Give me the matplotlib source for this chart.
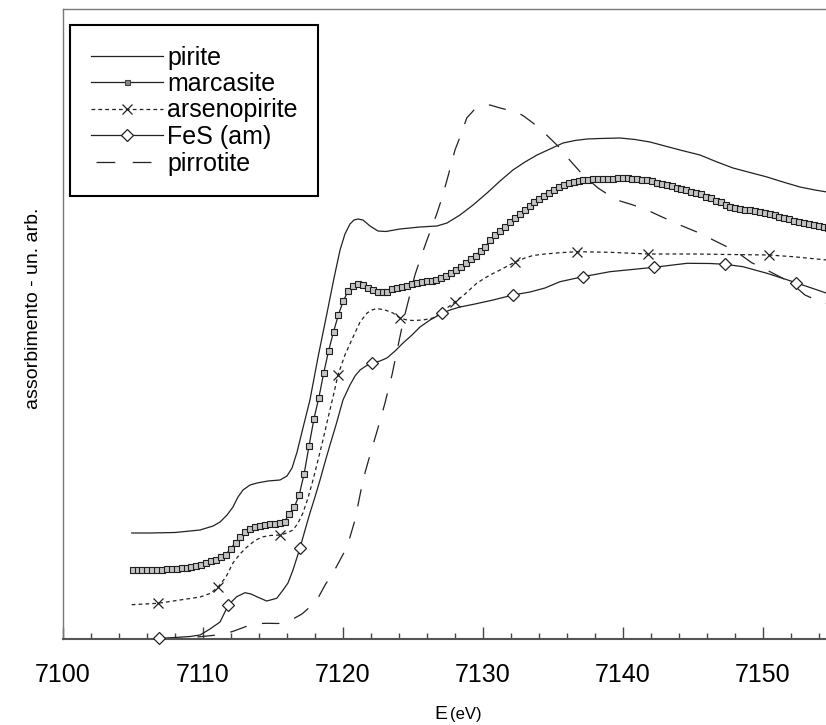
import matplotlib
matplotlib.use('Agg')
import matplotlib.pyplot as plt
from matplotlib.lines import Line2D
from matplotlib.ticker import MultipleLocator

plt.rcParams['font.family'] = ['Liberation Sans', 'DejaVu Sans']

# ---------------- data (energy in eV, absorption in arbitrary units) ----------------
pirite_E = [7104.93, 7106.24, 7108.02, 7109.81, 7110.74, 7111.24, 7111.74, 7112.16, 7112.52, 7112.88,
            7113.38, 7113.88, 7114.66, 7115.52, 7116.02, 7116.38, 7116.74, 7117.16, 7117.66, 7118.24,
            7118.88, 7119.38, 7119.81, 7120.16, 7120.52, 7120.81, 7121.09, 7121.45, 7121.95, 7122.52,
            7123.09, 7124.09, 7125.52, 7126.74, 7127.45, 7128.38, 7129.31, 7130.31, 7131.24, 7132.16,
            7133.02, 7133.88, 7134.81, 7135.74, 7136.59, 7137.45, 7138.38, 7139.81, 7140.88, 7141.95,
            7143.02, 7144.09, 7145.52, 7146.74, 7147.88, 7149.09, 7150.31, 7151.45, 7152.66, 7153.73,
            7155.02]
pirite_y = [1.055, 1.055, 1.060, 1.085, 1.125, 1.165, 1.235, 1.315, 1.415, 1.485,
            1.535, 1.555, 1.575, 1.585, 1.625, 1.705, 1.865, 2.105, 2.385, 2.815,
            3.255, 3.605, 3.885, 4.045, 4.145, 4.185, 4.195, 4.185, 4.125, 4.075,
            4.070, 4.095, 4.115, 4.125, 4.155, 4.235, 4.335, 4.455, 4.575, 4.685,
            4.765, 4.835, 4.895, 4.955, 4.980, 4.995, 5.000, 5.005, 4.990, 4.965,
            4.925, 4.885, 4.835, 4.765, 4.705, 4.660, 4.615, 4.565, 4.515, 4.485,
            4.455]

marcasite_E = [7105.00, 7105.35, 7105.70, 7106.05, 7106.40, 7106.75, 7107.10, 7107.45, 7107.80, 7108.15,
               7108.50, 7108.85, 7109.20, 7109.55, 7109.90, 7110.25, 7110.60, 7110.95, 7111.30, 7111.65,
               7112.00, 7112.35, 7112.70, 7113.05, 7113.40, 7113.75, 7114.10, 7114.45, 7114.80, 7115.15,
               7115.50, 7115.85, 7116.20, 7116.55, 7116.90, 7117.25, 7117.60, 7117.95, 7118.30, 7118.65,
               7119.00, 7119.35, 7119.70, 7120.05, 7120.40, 7120.75, 7121.10, 7121.45, 7121.80, 7122.15,
               7122.50, 7122.85, 7123.20, 7123.55, 7123.90, 7124.25, 7124.60, 7124.95, 7125.30, 7125.65,
               7126.00, 7126.35, 7126.70, 7127.05, 7127.40, 7127.75, 7128.10, 7128.45, 7128.80, 7129.15,
               7129.50, 7129.85, 7130.20, 7130.55, 7130.90, 7131.25, 7131.60, 7131.95, 7132.30, 7132.65,
               7133.00, 7133.35, 7133.70, 7134.05, 7134.40, 7134.75, 7135.10, 7135.45, 7135.80, 7136.15,
               7136.50, 7136.85, 7137.20, 7137.55, 7137.90, 7138.25, 7138.60, 7138.95, 7139.30, 7139.65,
               7140.00, 7140.35, 7140.70, 7141.05, 7141.40, 7141.75, 7142.10, 7142.45, 7142.80, 7143.15,
               7143.50, 7143.85, 7144.20, 7144.55, 7144.90, 7145.25, 7145.60, 7145.95, 7146.30, 7146.65,
               7147.00, 7147.35, 7147.70, 7148.05, 7148.40, 7148.75, 7149.10, 7149.45, 7149.80, 7150.15,
               7150.50, 7150.85, 7151.20, 7151.55, 7151.90, 7152.25, 7152.60, 7152.95, 7153.30, 7153.65,
               7154.00, 7154.35, 7154.70]
marcasite_y = [0.690, 0.685, 0.683, 0.685, 0.687, 0.690, 0.690, 0.692, 0.695, 0.700,
               0.707, 0.710, 0.715, 0.723, 0.735, 0.752, 0.772, 0.790, 0.812, 0.840,
               0.900, 0.960, 1.015, 1.065, 1.097, 1.113, 1.130, 1.138, 1.144, 1.148,
               1.153, 1.170, 1.250, 1.315, 1.440, 1.650, 1.930, 2.200, 2.410, 2.660,
               2.880, 3.070, 3.240, 3.380, 3.475, 3.530, 3.550, 3.540, 3.510, 3.485,
               3.470, 3.463, 3.470, 3.492, 3.507, 3.516, 3.528, 3.542, 3.555, 3.566,
               3.573, 3.578, 3.587, 3.605, 3.628, 3.660, 3.690, 3.720, 3.755, 3.795,
               3.830, 3.878, 3.920, 3.990, 4.035, 4.078, 4.120, 4.163, 4.205, 4.248,
               4.290, 4.325, 4.360, 4.395, 4.430, 4.460, 4.490, 4.515, 4.535, 4.555,
               4.565, 4.575, 4.583, 4.588, 4.592, 4.595, 4.597, 4.599, 4.600, 4.602,
               4.603, 4.602, 4.600, 4.597, 4.590, 4.582, 4.572, 4.560, 4.548, 4.535,
               4.522, 4.509, 4.496, 4.483, 4.470, 4.455, 4.440, 4.420, 4.400, 4.380,
               4.360, 4.340, 4.320, 4.307, 4.298, 4.290, 4.282, 4.273, 4.265, 4.255,
               4.245, 4.232, 4.220, 4.207, 4.194, 4.180, 4.165, 4.155, 4.145, 4.135,
               4.125, 4.115, 4.105]

arseno_E = [7104.93, 7106.81, 7108.38, 7109.81, 7110.52, 7111.09, 7111.66, 7112.16, 7112.66, 7113.16,
            7113.74, 7114.24, 7114.81, 7115.52, 7116.02, 7116.45, 7116.81, 7117.16, 7117.52, 7117.88,
            7118.24, 7118.59, 7118.95, 7119.31, 7119.66, 7120.16, 7120.74, 7121.24, 7121.74, 7122.09,
            7122.45, 7123.02, 7123.59, 7124.09, 7124.59, 7125.02, 7125.74, 7126.45, 7126.95, 7127.45,
            7128.02, 7128.74, 7129.59, 7130.52, 7131.24, 7132.31, 7133.02, 7133.59, 7134.45, 7135.52,
            7136.74, 7139.09, 7141.81, 7145.02, 7147.66, 7150.45, 7152.16, 7154.59]
arseno_y = [0.338, 0.352, 0.385, 0.415, 0.450, 0.512, 0.615, 0.755, 0.845, 0.915,
            0.980, 1.015, 1.030, 1.035, 1.055, 1.085, 1.155, 1.255, 1.405, 1.585,
            1.785, 1.985, 2.205, 2.415, 2.635, 2.835, 3.015, 3.165, 3.255, 3.285,
            3.300, 3.285, 3.255, 3.205, 3.185, 3.180, 3.185, 3.205, 3.245, 3.305,
            3.365, 3.445, 3.555, 3.635, 3.685, 3.765, 3.805, 3.830, 3.845, 3.858,
            3.868, 3.862, 3.845, 3.845, 3.840, 3.835, 3.818, 3.785]
arseno_mark_E = [7106.81, 7111.09, 7115.52, 7119.66, 7124.09, 7128.02, 7132.31, 7136.74, 7141.81, 7150.45]
arseno_mark_y = [0.352, 0.512, 1.035, 2.635, 3.205, 3.365, 3.765, 3.868, 3.845, 3.835]

fes_E = [7104.93, 7106.09, 7106.90, 7108.02, 7109.09, 7109.81, 7110.52, 7111.24, 7111.83, 7112.43,
         7113.02, 7113.45, 7113.86, 7114.57, 7115.29, 7115.74, 7116.09, 7116.45, 7116.95, 7117.31,
         7117.66, 7118.02, 7118.38, 7118.74, 7119.09, 7119.52, 7120.02, 7120.52, 7120.88, 7121.24,
         7121.66, 7122.09, 7122.66, 7123.16, 7123.74, 7124.31, 7124.95, 7125.52, 7126.24, 7126.74,
         7127.09, 7127.66, 7128.38, 7129.45, 7130.74, 7132.16, 7133.38, 7134.45, 7135.52, 7137.16,
         7139.09, 7142.24, 7144.59, 7146.24, 7147.31, 7148.59, 7149.45, 7150.31, 7151.24, 7152.16,
         7153.38, 7154.59]
fes_y = [-0.030, -0.005, 0.002, 0.010, 0.020, 0.035, 0.095, 0.165, 0.335, 0.418,
         0.458, 0.445, 0.418, 0.375, 0.402, 0.485, 0.555, 0.685, 0.905, 1.085,
         1.255, 1.415, 1.585, 1.765, 1.935, 2.135, 2.385, 2.535, 2.625, 2.685,
         2.725, 2.752, 2.775, 2.805, 2.875, 2.955, 3.035, 3.115, 3.185, 3.225,
         3.252, 3.285, 3.315, 3.345, 3.385, 3.435, 3.465, 3.505, 3.568, 3.618,
         3.668, 3.712, 3.752, 3.750, 3.742, 3.718, 3.685, 3.652, 3.610, 3.568,
         3.510, 3.452]
fes_mark_E = [7106.90, 7111.83, 7116.95, 7122.09, 7127.09, 7132.16, 7137.16, 7142.24, 7147.31, 7152.38]
fes_mark_y = [0.002, 0.335, 0.905, 2.752, 3.252, 3.435, 3.618, 3.712, 3.742, 3.552]

pirr_E = [7104.93, 7107.31, 7108.59, 7109.81, 7111.02, 7112.09, 7112.81, 7113.38, 7114.09, 7114.66,
          7115.38, 7115.88, 7116.45, 7117.09, 7117.66, 7118.24, 7118.74, 7119.31, 7119.81, 7120.31,
          7120.88, 7121.45, 7121.95, 7122.52, 7123.02, 7123.52, 7123.95, 7124.31, 7124.74, 7125.16,
          7125.59, 7126.02, 7126.74, 7127.09, 7127.45, 7127.74, 7128.02, 7128.38, 7128.86, 7129.38,
          7129.93, 7130.52, 7131.24, 7131.81, 7132.43, 7133.02, 7133.59, 7134.31, 7134.93, 7135.52,
          7136.00, 7136.59, 7136.95, 7137.66, 7138.24, 7138.95, 7139.57, 7140.52, 7141.59, 7142.66,
          7144.09, 7145.52, 7146.71, 7148.02, 7149.21, 7150.02, 7150.74, 7151.95, 7153.02, 7154.09,
          7155.02]
pirr_y = [-0.065, -0.025, 0.005, 0.018, 0.035, 0.068, 0.105, 0.135, 0.150, 0.152,
          0.150, 0.160, 0.195, 0.245, 0.315, 0.405, 0.535, 0.655, 0.785, 0.915,
          1.185, 1.585, 1.835, 2.105, 2.355, 2.635, 2.925, 3.165, 3.405, 3.635,
          3.815, 3.985, 4.255, 4.405, 4.585, 4.735, 4.885, 5.015, 5.205, 5.285,
          5.325, 5.335, 5.305, 5.285, 5.268, 5.215, 5.155, 5.070, 4.985, 4.905,
          4.818, 4.725, 4.668, 4.575, 4.505, 4.440, 4.385, 4.345, 4.295, 4.225,
          4.135, 4.052, 3.968, 3.878, 3.758, 3.705, 3.652, 3.565, 3.435, 3.368,
          3.335]

labels = ['pirite', 'marcasite', 'arsenopirite', 'FeS (am)', 'pirrotite']
tick_vals = [7100, 7110, 7120, 7130, 7140, 7150]
tick_labels = ['7100', '7110', '7120', '7130', '7140', '7150']

# ---------------- figure ----------------
W, H = 826, 725
fig = plt.figure(figsize=(W / 100, H / 100), dpi=100)
ax = fig.add_axes([62.7 / W, 86.5 / H, 770 / W, 629.5 / H])
ax.set_xlim(7100, 7155)
ax.set_ylim(0, 6.295)

lc = '#222222'
lw = 0.9
dot_ls = (0, (3, 2.5))
dash_ls = (0, (14, 12.5))

ax.plot(pirite_E, pirite_y, color=lc, lw=lw)
ax.plot(marcasite_E, marcasite_y, color=lc, lw=lw, marker='s', ms=3.9,
        mfc='#c4c4c4', mec='#1e1e1e', mew=0.8)
ax.plot(arseno_E, arseno_y, color=lc, lw=lw, ls=dot_ls)
ax.plot(arseno_mark_E, arseno_mark_y, ls='none', marker='x', ms=7, mec=lc, mew=0.9,
        clip_on=False, zorder=3)
ax.plot(fes_E, fes_y, color=lc, lw=lw)
ax.plot(fes_mark_E, fes_mark_y, ls='none', marker='D', ms=6.5, mfc='white', mec=lc,
        mew=0.9, clip_on=False, zorder=3)
ax.plot(pirr_E, pirr_y, color=lc, lw=lw, ls=dash_ls)

# axes styling
ax.set_xticks(tick_vals)
ax.set_xticklabels(tick_labels)
ax.xaxis.set_minor_locator(MultipleLocator(2))
ax.tick_params(axis='x', which='major', direction='in', length=9, width=1,
               color='#444444', labelcolor='black', labelsize=18, pad=18, top=False)
ax.tick_params(axis='x', which='minor', direction='in', length=4.3, width=1,
               color='#444444', top=False)
ax.set_yticks([])
ax.spines['right'].set_visible(False)
for s in ('left', 'top'):
    ax.spines[s].set_color('#777777')
    ax.spines[s].set_linewidth(1)
ax.spines['bottom'].set_color('#555555')
ax.spines['bottom'].set_linewidth(1.5)

# legend
handles = [
    Line2D([], [], color=lc, lw=lw),
    Line2D([], [], color=lc, lw=lw, marker='s', ms=3.6, mfc='#888888', mec='#444444', mew=0.8),
    Line2D([], [], color=lc, lw=lw, ls=dot_ls, marker='x', ms=7, mew=0.9),
    Line2D([], [], color=lc, lw=lw, marker='D', ms=6.5, mfc='white', mec=lc, mew=0.9),
    Line2D([], [], color=lc, lw=lw, ls=(25, (15, 14))),
]
leg = ax.legend(handles, labels, loc='upper left',
                bbox_to_anchor=((70 - 62.7) / 770, (638.5 - 25) / 629.5),
                bbox_transform=ax.transAxes, borderaxespad=0, fontsize=18,
                handlelength=2.9, handletextpad=0.16, labelspacing=0.1,
                borderpad=0.82, frameon=True, fancybox=False, edgecolor='black',
                framealpha=1, numpoints=1)
leg.get_frame().set_linewidth(1.5)

# axis titles
fig.text(34 / W, 1 - 308 / H, 'assorbimento - un. arb.', rotation=90,
         ha='center', va='center', fontsize=14)
fig.text(447 / W, 1 - 719 / H, 'E', ha='right', va='baseline', fontsize=14)
fig.text(450 / W, 1 - 719 / H, '(eV)', ha='left', va='baseline', fontsize=12)

fig.savefig('out.png', dpi=100)
